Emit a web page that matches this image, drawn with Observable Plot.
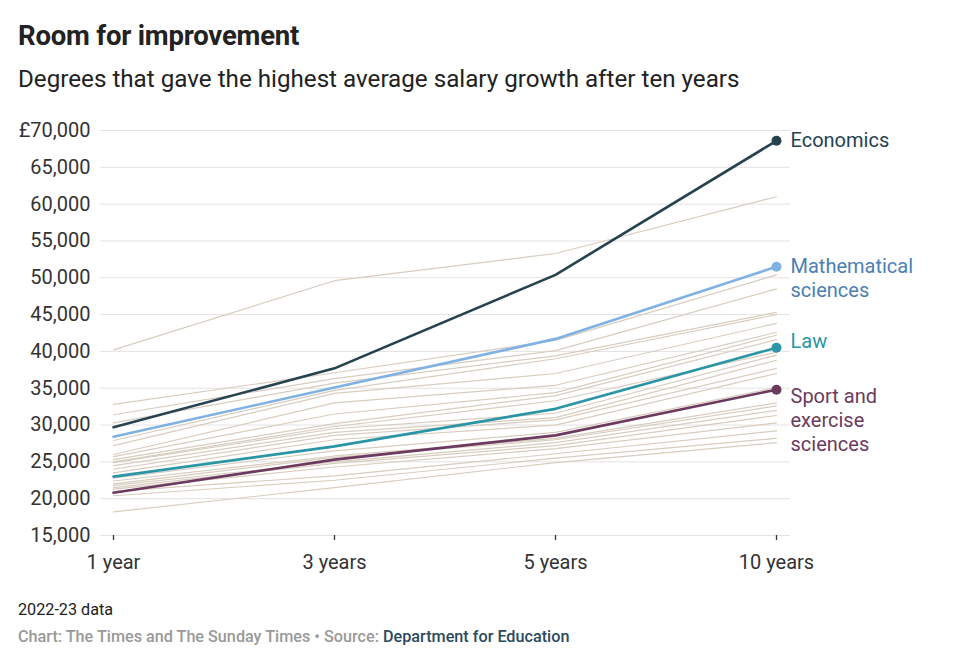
<!DOCTYPE html>
<html>
<head>
<meta charset="utf-8">
<script src="https://cdn.jsdelivr.net/npm/d3@7"></script>
<script src="https://cdn.jsdelivr.net/npm/@observablehq/plot@0.6"></script>
<style>
  html, body { margin: 0; padding: 0; background: #fff; }
  body { width: 965px; height: 669px; position: relative; font-family: Roboto, "Noto Sans", sans-serif; overflow: hidden; }
  .t { position: absolute; left: 18px; white-space: nowrap; line-height: 1.2; }
  #title { top: 19px; font-size: 27.5px; font-weight: 700; color: #222; letter-spacing: -0.2px; }
  #subtitle { top: 65px; font-size: 24.2px; color: #222; }
  #note { top: 600px; font-size: 16.2px; color: #222; }
  #source { top: 627px; font-size: 16.2px; font-weight: 500; color: #999; }
  #source span { color: #2b4a5e; }
  #chart { position: absolute; left: 0; top: 110px; }
</style>
</head>
<body>
<div id="title" class="t">Room for improvement</div>
<div id="subtitle" class="t">Degrees that gave the highest average salary growth after ten years</div>
<div id="chart"></div>
<div id="note" class="t">2022-23 data</div>
<div id="source" class="t">Chart: The Times and The Sunday Times • Source: <span>Department for Education</span></div>
<script>
const periods = ["1 year", "3 years", "5 years", "10 years"];
const yTicks = [15000, 20000, 25000, 30000, 35000, 40000, 45000, 50000, 55000, 60000, 65000, 70000];

// Highlighted subjects
const highlightNames = ["Economics", "Mathematical\nsciences", "Law", "Sport and\nexercise\nsciences"];
const economics = [29700, 37700, 50400, 68600];
const mathematical = [28400, 35100, 41700, 51500];
const law = [23000, 27100, 32200, 40500];
const sport = [20800, 25300, 28600, 34800];
const highlightColors = ["#25424f", "#7fb1e3", "#2a95a5", "#6b3a5e"];
const labelColors = ["#25424f", "#4a80b4", "#2a95a5", "#6b3a5e"];

// Other subjects (grey background lines), values at 1, 3, 5, 10 years
const otherYear1 = [40200, 32800, 31400, 30300, 27900, 27200, 26000, 25700, 25300, 25000, 24900, 24500, 24000, 23500, 22800, 22400, 22000, 21800, 21500, 21300, 21000, 20400, 18200];
const otherYear3 = [49600, 37100, 36300, 35700, 34700, 34300, 33000, 31500, 30200, 29800, 29500, 29000, 28600, 28000, 26500, 25800, 25600, 25000, 24800, 24300, 23100, 22500, 21500];
const otherYear5 = [53300, 41500, 40100, 39400, 39000, 37000, 35400, 34400, 34000, 33300, 31600, 31000, 30700, 30000, 29000, 28200, 28000, 27600, 27200, 26800, 26100, 25500, 24900];
const otherYear10 = [61000, 50400, 48500, 45300, 45000, 43800, 42600, 42200, 41600, 39900, 39500, 38800, 37700, 37000, 35100, 33000, 32600, 32000, 31300, 30300, 29200, 28200, 27600];

const others = [];
otherYear1.forEach((_, i) => {
  [otherYear1[i], otherYear3[i], otherYear5[i], otherYear10[i]].forEach((v, j) => {
    others.push({ id: i, period: periods[j], value: v });
  });
});

const highlightSeries = [economics, mathematical, law, sport];
const highlighted = [];
highlightSeries.forEach((vals, i) => {
  vals.forEach((v, j) => highlighted.push({ id: i, name: highlightNames[i], period: periods[j], value: v }));
});
const lastPoints = highlighted.filter(d => d.period === "10 years");

const fmt = d3.format(",");
const labelOpts = {
  x: "period", y: "value", text: "name",
  fill: d => labelColors[d.id],
  textAnchor: "start", lineAnchor: "top", lineHeight: 1.2,
  dx: 14, fontSize: 20
};
const chart = Plot.plot({
  width: 965,
  height: 480,
  marginLeft: 100,
  marginRight: 175,
  marginTop: 20,
  marginBottom: 55,
  style: { fontFamily: "Roboto, 'Noto Sans', sans-serif", background: "transparent", overflow: "visible" },
  x: { type: "point", domain: periods, range: [113, 776], padding: 0, label: null },
  y: { domain: [15000, 70000], label: null },
  marks: [
    Plot.gridY(yTicks, { stroke: "#e3e3e3", strokeOpacity: 1, strokeWidth: 1 }),
    Plot.axisY(yTicks, {
      tickSize: 0, tickPadding: 10, fontSize: 20, fill: "#333",
      tickFormat: d => (d === 70000 ? "£" : "") + fmt(d)
    }),
    Plot.axisX({ tickSize: 5, tickPadding: 14, fontSize: 20, fill: "#333", stroke: "#333", strokeWidth: 1.3 }),
    Plot.line(others, { x: "period", y: "value", z: "id", stroke: "#d8ccbf", strokeWidth: 1.2 }),
    Plot.line(highlighted, { x: "period", y: "value", z: "id", stroke: d => highlightColors[d.id], strokeWidth: 2.6 }),
    Plot.dot(lastPoints, { x: "period", y: "value", fill: d => highlightColors[d.id], r: 5, stroke: "none" }),
    Plot.text(lastPoints.filter(d => d.id <= 1), { ...labelOpts, dy: -11 }),
    Plot.text(lastPoints.filter(d => d.id === 2), { ...labelOpts, dy: -17 }),
    Plot.text(lastPoints.filter(d => d.id === 3), { ...labelOpts, dy: -4 })
  ]
});
document.getElementById("chart").appendChild(chart);
</script>
</body>
</html>
